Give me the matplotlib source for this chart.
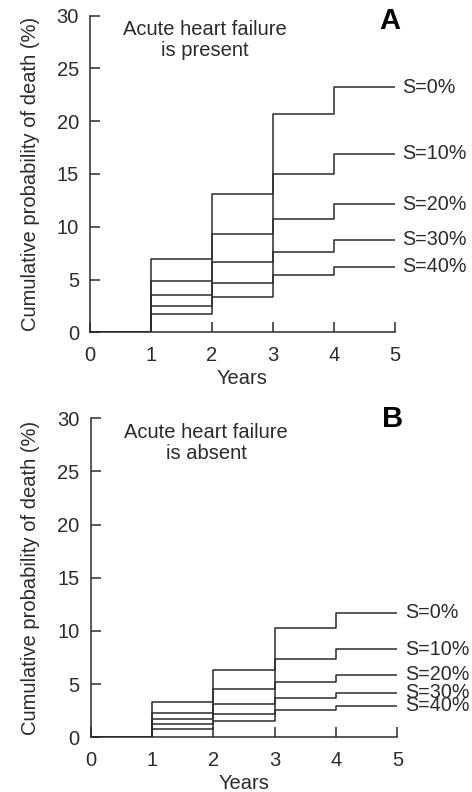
import matplotlib
matplotlib.use("Agg")
from matplotlib import pyplot as plt

plt.rcParams['font.family'] = ['Liberation Sans', 'DejaVu Sans']

years = [0, 1, 2, 3, 4, 5]
labels = ["S=0%", "S=10%", "S=20%", "S=30%", "S=40%"]

# cumulative probability of death (%) at end of years 1..4 (step held to year 5)
present = [
    [6.9, 13.1, 20.7, 23.2],
    [4.9, 9.35, 15.0, 16.9],
    [3.5, 6.65, 10.75, 12.15],
    [2.5, 4.7, 7.65, 8.75],
    [1.75, 3.35, 5.45, 6.2],
]
absent = [
    [3.3, 6.35, 10.3, 11.7],
    [2.27, 4.55, 7.37, 8.3],
    [1.69, 3.17, 5.2, 5.9],
    [1.22, 2.23, 3.67, 4.2],
    [0.78, 1.57, 2.6, 2.98],
]

ink = "#2b2b2b"
fs = 14.5
fig = plt.figure(figsize=(4.72, 7.92), dpi=100)
axA = fig.add_axes([0.1907, 0.5804, 0.646, 0.3999])
axB = fig.add_axes([0.192, 0.0691, 0.650, 0.4028])

def build_panel(ax, data, note, letter, letter_y):
    for vals, lab in zip(data, labels):
        y = [0] + vals + [vals[-1]]
        ax.step(years, y, where="post", color=ink, lw=1.1)
        ax.text(5.12, vals[-1], lab, ha="left", va="center", fontsize=14.2,
                color=ink, clip_on=False)
    ax.set_xlim(0, 5)
    ax.set_ylim(0, 30)
    ax.set_xticks(years)
    ax.set_yticks([0, 5, 10, 15, 20, 25, 30])
    for s in ["top", "right"]:
        ax.spines[s].set_visible(False)
    for s in ["left", "bottom"]:
        ax.spines[s].set_color(ink)
        ax.spines[s].set_linewidth(1.1)
    ax.tick_params(axis="both", direction="in", length=7.5, width=1.1,
                   color=ink, labelcolor=ink, labelsize=fs)
    ax.tick_params(axis="x", pad=10)
    ax.tick_params(axis="y", pad=8)
    ax.set_xlabel("Years", fontsize=fs, color=ink, labelpad=3)
    ax.set_ylabel("Cumulative probability of death (%)", fontsize=fs,
                  color=ink, labelpad=12)
    ax.text(1.88, 27.7, note, ha="center", va="center", fontsize=fs,
            color=ink, linespacing=1.15)
    ax.text(4.92, letter_y, letter, ha="center", va="center", fontsize=21,
            fontweight="bold", color="black", clip_on=False)

build_panel(axA, present, "Acute heart failure\nis present", "A", 29.5)
build_panel(axB, absent, "Acute heart failure\nis absent", "B", 29.9)

fig.savefig("out.png", dpi=100)
